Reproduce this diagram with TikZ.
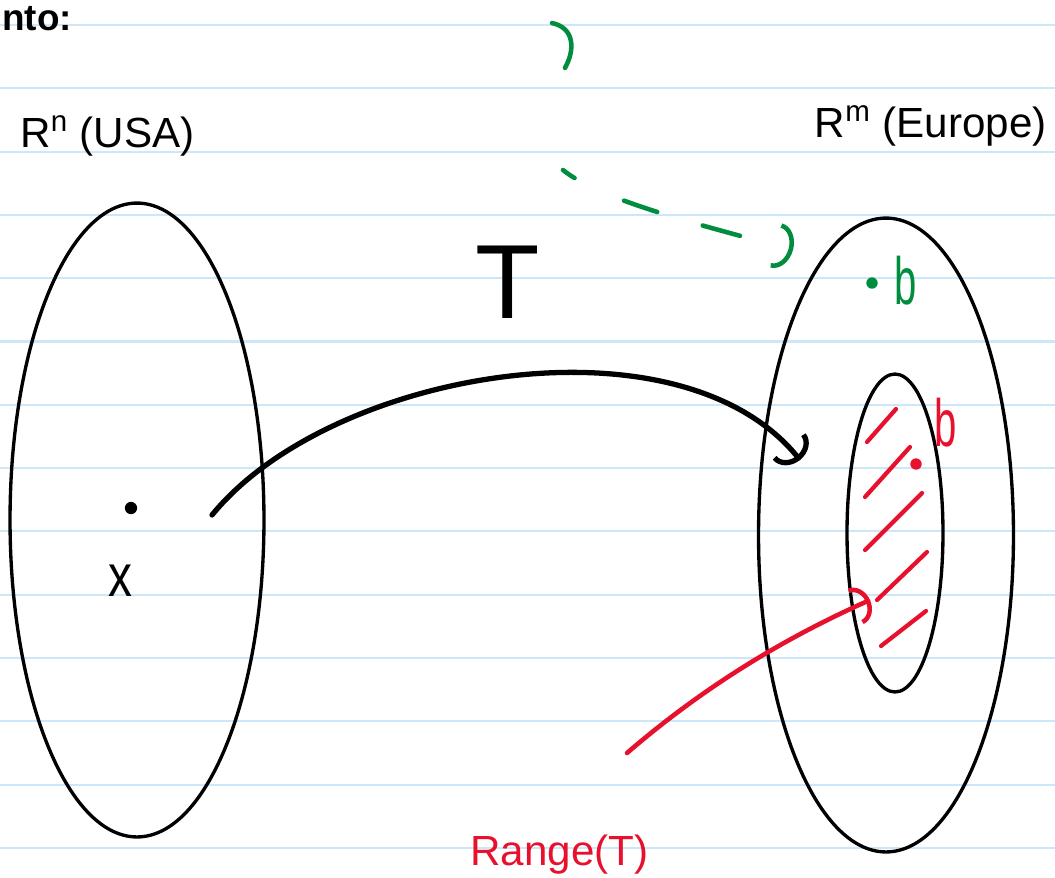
\documentclass[tikz,border=0pt]{standalone}
\usepackage{fontspec}
\setmainfont{Liberation Sans}
\usetikzlibrary{arrows.meta,shapes.geometric}

\definecolor{penred}{RGB}{232,17,45}
\definecolor{pengreen}{RGB}{0,142,62}
\definecolor{ruleblue}{RGB}{204,230,250}

\begin{document}
\begin{tikzpicture}[
    x=0.02cm, y=-0.02cm,
    font=\fontsize{24}{28}\selectfont,
    set/.style={draw, ellipse, line width=1.9pt, inner sep=0pt},
    dot/.style={circle, fill, inner sep=0pt, minimum size=6.5pt},
    pen/.style={line width=2.6pt, line cap=round},
    hatch/.style={penred, line width=2.4pt, line cap=round},
    rule/.style={ruleblue, line width=1.2pt},
    lbl/.style={inner sep=0pt},
    hand/.style={lbl, anchor=base, font=\fontsize{38}{38}\selectfont}
]
    \useasboundingbox (0,0) rectangle (1055,877);

    % ruled paper
    \foreach \k in {0,...,13}
        \draw[rule] (0,{25+63.3*\k}) -- (1055,{25+63.3*\k});

    \node[lbl, anchor=base west, font=\fontsize{21}{24}\selectfont\bfseries] (head) at (2,30) {nto:};

    % the two spaces
    \node[set, minimum width=5.08cm, minimum height=12.68cm] (usa) at (137,520) {};
    \node[set, minimum width=5.1cm, minimum height=12.68cm] (europe) at (886,535) {};
    \node[set, minimum width=1.92cm, minimum height=6.36cm] (range) at (895,533) {};

    \node[lbl, anchor=base west] (rn) at (20,147) {R\textsuperscript{n} (USA)};
    \node[lbl, anchor=base east] (rm) at (1047,137) {R\textsuperscript{m} (Europe)};

    % hatching of the range
    \foreach \ax/\ay/\bx/\by in {867/442/896/409, 865/497/910/447, 865/550/922/493, 877/600/927/552, 881/646/926/611}
        \draw[hatch] (\ax,\ay) -- (\bx,\by);

    % points
    \node[dot, minimum size=7pt] (xpt) at (131,508) {};
    \node[hand, font=\fontsize{34}{34}\selectfont] (xlbl) at (120,596) {\scalebox{0.8}[1]{x}};
    \node[dot, pengreen] (bout) at (872,283) {};
    \node[hand, text=pengreen] (boutlbl) at (906,304) {\scalebox{0.6}[1]{b}};
    \node[dot, penred] (bin) at (916,464) {};
    \node[hand, text=penred] (binlbl) at (946,446) {\scalebox{0.6}[1]{b}};

    % the map T
    \node[lbl, anchor=base, font=\fontsize{60}{60}\selectfont] (tlbl) at (508,318) {T};
    \coordinate (tstart) at (212,515);
    \coordinate (tend) at (800,460);
    \draw[pen, line width=3pt, -{Arc Barb[length=10pt, width=24pt]}] (tstart) .. controls (330,370) and (680,310) .. (tend);

    % green guess, dashed
    \draw[pen, pengreen] (552,23) .. controls (575,28) and (575,50) .. (565,68);
    \coordinate (gstart) at (563,170);
    \coordinate (gend) at (793,250);
    \draw[pen, pengreen, dash pattern=on 8pt off 31pt on 20pt off 27pt on 22pt off 60pt,
        -{Arc Barb[length=10pt, width=26pt]}] (gstart) .. controls (600,200) and (700,225) .. (gend);

    % range label
    \node[lbl, anchor=base west, text=penred] (rangelbl) at (470,865) {Range(T)};
    \coordinate (rstart) at (627,753);
    \coordinate (rend) at (870,600);
    \draw[pen, penred, -{Arc Barb[length=9pt, width=22pt]}] (rstart) .. controls (700,690) and (780,640) .. (rend);
\end{tikzpicture}
\end{document}
